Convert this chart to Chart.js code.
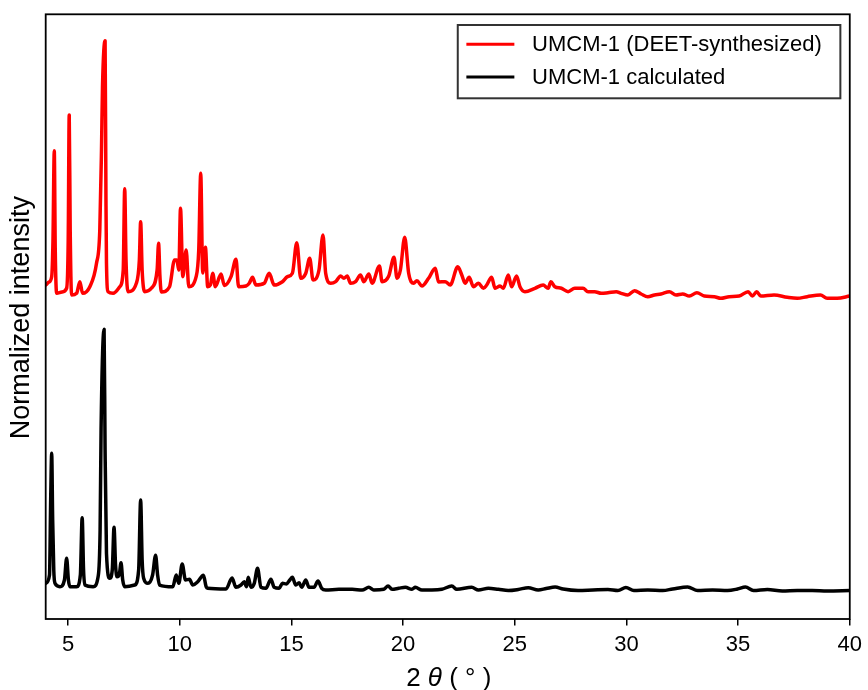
<!DOCTYPE html>
<html>
<head>
<meta charset="utf-8">
<title>UMCM-1 PXRD</title>
<script src="https://cdn.jsdelivr.net/npm/chart.js@4.4.1/dist/chart.umd.min.js"></script>
<style>
  html, body { margin: 0; padding: 0; background: #fff; }
  #wrap { width: 868px; height: 690px; }
</style>
</head>
<body>
<div id="wrap"><canvas id="xrd" width="868" height="690"></canvas></div>
<script>
// Series labels
const seriesLabels = ['UMCM-1 (DEET-synthesized)', 'UMCM-1 calculated'];

// Measured pattern (offset upward), 2θ in degrees
const measTheta = [
  4.000, 4.147, 4.268, 4.326, 4.384, 4.428, 4.491, 4.727, 4.937, 5.008, 5.053, 5.097, 5.160,
  5.383, 5.530, 5.651, 5.976, 6.275, 6.422, 6.498, 6.543, 6.659, 6.698, 6.721, 6.793, 7.016,
  7.314, 7.471, 7.537, 7.596, 7.685, 8.059, 8.193, 8.251, 8.318, 8.430, 8.729, 8.988, 9.054,
  9.112, 9.175, 9.545, 9.768, 9.871, 9.960, 10.036, 10.138, 10.290, 10.406, 10.736, 10.852,
  10.941, 11.030, 11.151, 11.253, 11.374, 11.477, 11.597, 11.851, 11.998, 12.297, 12.520,
  12.636, 12.966, 13.114, 13.261, 13.413, 13.783, 14.006, 14.229, 14.599, 14.822, 15.045,
  15.241, 15.420, 15.643, 15.821, 15.969, 16.236, 16.415, 16.535, 16.758, 16.981, 17.204,
  17.351, 17.499, 17.650, 17.873, 18.096, 18.244, 18.467, 18.614, 18.944, 19.060, 19.359,
  19.595, 19.729, 19.881, 20.073, 20.251, 20.474, 20.621, 20.844, 21.143, 21.442, 21.589,
  21.888, 22.111, 22.450, 22.629, 22.780, 22.959, 23.151, 23.374, 23.597, 23.744, 23.967,
  24.119, 24.342, 24.489, 24.712, 24.859, 25.082, 25.234, 25.457, 25.903, 26.273, 26.496,
  26.617, 26.795, 27.090, 27.389, 27.687, 28.058, 28.281, 28.580, 28.874, 29.173, 29.543,
  29.766, 30.065, 30.364, 30.658, 30.957, 31.256, 31.550, 31.925, 32.220, 32.519, 32.817,
  33.157, 33.487, 33.933, 34.227, 34.602, 35.048, 35.449, 35.641, 35.833, 36.012, 36.609,
  37.203, 37.649, 38.095, 38.688, 38.987, 39.433, 40.000
];
const measIntensity = [
  55.23, 55.73, 56.61, 62.68, 77.44, 61.02, 53.86, 54.08, 54.69, 62.68, 83.35, 64.33, 53.58,
  53.86, 55.78, 53.86, 54.95, 58.82, 64.33, 77.56, 88.03, 95.63, 69.29, 58.87, 54.13, 53.86,
  54.95, 57.71, 71.16, 59.37, 54.13, 55.52, 59.37, 65.70, 57.71, 54.13, 54.69, 57.71, 62.13,
  56.89, 54.08, 54.95, 59.37, 59.37, 57.71, 67.92, 56.61, 61.02, 54.95, 56.61, 61.02,
  73.71, 57.22, 61.47, 54.95, 55.23, 57.17, 54.95, 57.05, 55.15, 56.61, 59.48,
  54.95, 55.07, 55.52, 56.51, 55.23, 55.52, 57.17, 55.23, 55.78, 56.61, 57.17,
  62.23, 56.34, 57.17, 59.65, 56.06, 57.71, 63.50, 57.17, 55.52, 55.78, 56.72,
  56.34, 56.72, 55.52, 55.78, 56.89, 55.78, 57.05, 55.52, 58.38, 55.78, 56.72,
  59.81, 56.34, 57.71, 63.12, 57.17, 55.52, 55.95, 55.07, 56.34, 58.00, 55.73,
  55.78, 55.23, 58.26, 56.89, 55.52, 56.51, 54.95, 55.52, 54.69, 55.23, 56.51,
  54.69, 55.07, 54.69, 56.89, 54.95, 56.72, 54.95, 54.13, 54.69, 55.23, 54.69,
  55.78, 54.95, 54.69, 54.13, 54.69, 54.69, 54.13, 54.13, 53.86, 53.96, 54.13,
  53.86, 53.58, 54.29, 53.75, 53.30, 53.58, 53.75, 54.13, 53.58, 53.75, 53.41,
  53.96, 53.41, 53.30, 53.03, 53.30, 53.41, 54.13, 53.41, 54.13, 53.41, 53.58,
  53.20, 53.03, 53.30, 53.58, 53.03, 53.03, 53.41
];

// Calculated pattern, 2θ in degrees
const calcTheta = [
  4.000, 4.170, 4.223, 4.268, 4.312, 4.361, 4.415, 4.638, 4.839, 4.937, 5.017, 5.084, 5.383,
  5.552, 5.633, 5.695, 5.753, 6.123, 6.346, 6.436, 6.480, 6.614, 6.659, 6.721, 6.868, 6.980,
  7.060, 7.127, 7.194, 7.292, 7.372, 7.448, 7.537, 7.984, 8.162, 8.251, 8.318, 8.385, 8.577,
  8.786, 8.920, 9.010, 9.099, 9.692, 9.844, 9.960, 10.111, 10.259, 10.437, 10.584, 10.807,
  11.062, 11.182, 11.253, 12.074, 12.342, 12.520, 12.743, 12.891, 12.993, 13.069, 13.189,
  13.337, 13.484, 13.636, 13.859, 14.082, 14.229, 14.452, 14.599, 14.778, 14.929, 15.045,
  15.197, 15.344, 15.465, 15.643, 15.790, 16.013, 16.192, 16.357, 16.535, 17.128, 17.722,
  18.168, 18.467, 18.690, 19.136, 19.328, 19.506, 19.805, 20.104, 20.398, 20.550, 20.844,
  21.290, 21.736, 22.183, 22.406, 23.075, 23.374, 23.820, 24.266, 24.712, 25.159, 25.605,
  26.051, 26.408, 26.809, 27.166, 27.836, 28.505, 29.173, 29.620, 29.977, 30.334, 30.957,
  31.626, 32.072, 32.741, 33.188, 33.857, 34.526, 34.972, 35.329, 35.686, 36.311, 36.980,
  37.649, 38.318, 38.987, 40.000
];
const calcIntensity = [
  5.90, 7.28, 19.68, 27.40, 16.37, 8.10, 5.90, 5.34, 6.45, 10.04, 6.45, 5.34, 5.34,
  7.28, 16.75, 8.10, 5.62, 5.34, 7.00, 14.72, 31.54, 47.91, 27.95, 10.87, 6.73, 8.10,
  15.16, 8.93, 7.00, 7.28, 9.31, 6.45, 5.34, 5.62, 8.10, 19.68, 9.76, 6.73, 5.90,
  7.28, 10.53, 7.28, 5.62, 5.34, 7.28, 5.90, 9.10, 6.45, 6.57, 5.62, 6.17,
  7.23, 5.34, 5.08, 4.96, 6.78, 5.24, 5.62, 6.17, 5.34, 6.90, 5.24,
  5.90, 8.38, 5.24, 5.08, 6.57, 5.24, 5.08, 5.90, 5.79, 6.45, 6.90,
  5.62, 6.00, 5.24, 6.45, 5.24, 5.24, 6.28, 5.08, 4.80, 4.91, 4.91,
  4.80, 5.24, 4.80, 4.91, 5.46, 4.91, 5.08, 5.24, 4.91, 5.24, 4.80,
  4.80, 4.91, 5.46, 4.91, 5.24, 4.80, 5.08, 4.91, 4.71, 4.88, 5.18,
  4.80, 5.04, 5.29, 4.96, 4.71, 4.80, 4.88, 4.71, 5.21, 4.71, 4.80,
  4.71, 4.96, 5.29, 4.71, 4.80, 4.71, 4.96, 5.29, 4.71, 4.88, 4.63,
  4.71, 4.71, 4.63, 4.71
];

// Axis settings
const thetaTicks = [5, 10, 15, 20, 25, 30, 35, 40];
const thetaMin = 4, thetaMax = 40;
const intensityMin = 0, intensityMax = 100;

const FONT = "'Liberation Sans', Arial, Helvetica, sans-serif";
const toPoints = (xs, ys) => xs.map((x, i) => ({ x: x, y: ys[i] }));

// Plot frame, axis titles and a boxed legend
const decorations = {
  id: 'decorations',
  afterDraw(chart) {
    const { ctx, chartArea: a } = chart;
    ctx.save();

    // frame
    ctx.strokeStyle = '#000';
    ctx.lineWidth = 1.8;
    ctx.strokeRect(a.left, a.top, a.right - a.left, a.bottom - a.top);

    // y title
    ctx.fillStyle = '#000';
    ctx.font = '27px ' + FONT;
    ctx.textAlign = 'center';
    ctx.textBaseline = 'middle';
    ctx.save();
    ctx.translate(22, (a.top + a.bottom) / 2 + 1);
    ctx.rotate(-Math.PI / 2);
    ctx.fillText('Normalized intensity', 0, 0);
    ctx.restore();

    // x title: 2θ (°) with italic theta
    const parts = [
      { t: '2 ', f: '26px ' + FONT },
      { t: 'θ', f: 'italic 26px ' + FONT },
      { t: ' ( ° )', f: '26px ' + FONT }
    ];
    let total = 0;
    parts.forEach(p => { ctx.font = p.f; p.w = ctx.measureText(p.t).width; total += p.w; });
    let x = (a.left + a.right) / 2 - total / 2 + 1;
    ctx.textAlign = 'left';
    ctx.textBaseline = 'alphabetic';
    parts.forEach(p => { ctx.font = p.f; ctx.fillText(p.t, x, 686); x += p.w; });

    // legend
    const lx = a.right - 9.4, ly = a.top + 10.7;
    const bw = 382.6, bh = 73.3;
    ctx.fillStyle = '#fff';
    ctx.fillRect(lx - bw, ly, bw, bh);
    ctx.strokeStyle = '#333';
    ctx.lineWidth = 2;
    ctx.strokeRect(lx - bw, ly, bw, bh);
    ctx.font = '22px ' + FONT;
    ctx.textBaseline = 'middle';
    chart.data.datasets.forEach((ds, i) => {
      const y = ly + 19.3 + i * 32.7;
      ctx.strokeStyle = ds.borderColor;
      ctx.lineWidth = 3;
      ctx.beginPath();
      ctx.moveTo(lx - bw + 8.6, y);
      ctx.lineTo(lx - bw + 56.6, y);
      ctx.stroke();
      ctx.fillStyle = '#000';
      ctx.fillText(ds.label, lx - bw + 74.3, y + 1);
    });
    ctx.restore();
  }
};

const lineStyle = {
  borderWidth: 3.5,
  pointRadius: 0,
  cubicInterpolationMode: 'monotone',
  fill: false,
  borderJoinStyle: 'round',
  borderCapStyle: 'round'
};

new Chart(document.getElementById('xrd'), {
  type: 'line',
  data: {
    datasets: [
      Object.assign({
        label: seriesLabels[0],
        data: toPoints(measTheta, measIntensity),
        borderColor: '#ff0000'
      }, lineStyle),
      Object.assign({
        label: seriesLabels[1],
        data: toPoints(calcTheta, calcIntensity),
        borderColor: '#000000'
      }, lineStyle)
    ]
  },
  options: {
    responsive: false,
    animation: false,
    devicePixelRatio: 1,
    layout: { padding: { left: 45.7, top: 14.3, right: 15.3, bottom: 0 } },
    plugins: {
      legend: { display: false },
      tooltip: { enabled: false },
      title: { display: false }
    },
    scales: {
      x: {
        type: 'linear',
        min: thetaMin,
        max: thetaMax,
        offset: false,
        afterBuildTicks: s => { s.ticks = thetaTicks.map(v => ({ value: v })); },
        afterFit: s => { s.height = 71; },
        border: { display: false },
        grid: {
          display: true,
          drawOnChartArea: false,
          drawTicks: true,
          tickLength: 6.5,
          color: '#000',
          lineWidth: 1.5
        },
        ticks: {
          color: '#000',
          font: { family: FONT, size: 22 },
          padding: 6,
          maxRotation: 0,
          autoSkip: false
        },
        title: { display: false }
      },
      y: {
        display: false,
        min: intensityMin,
        max: intensityMax
      }
    }
  },
  plugins: [decorations]
});
</script>
</body>
</html>
